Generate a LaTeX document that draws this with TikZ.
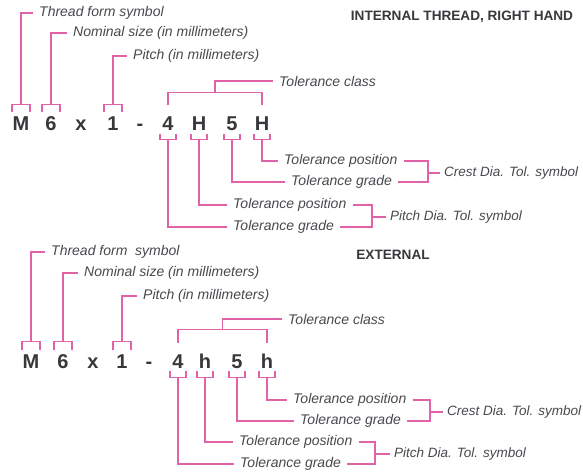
\documentclass[tikz,border=0pt]{standalone}
\usepackage{fontspec}
\setmainfont{Liberation Sans}
\usepackage{xcolor}
\definecolor{leadpink}{RGB}{226,98,168}
\definecolor{labelgray}{RGB}{72,72,78}
\definecolor{glyphgray}{RGB}{55,55,60}

\begin{document}
\begin{tikzpicture}[x=1pt, y=1pt,
        lead/.style={draw=leadpink, line width=1.2pt},
        lbl/.style={anchor=west, inner xsep=6pt, inner ysep=1pt, text=labelgray, font=\fontsize{14}{16}\selectfont\itshape},
        symlbl/.style={lbl, inner xsep=4pt, font=\fontsize{13.5}{16}\selectfont\itshape},
        glyph/.style={inner sep=0pt, text height=14pt, text depth=0pt, text=glyphgray, font=\fontsize{20}{20}\selectfont\bfseries},
        heading/.style={inner sep=0pt, text=glyphgray, font=\fontsize{13.6}{15}\selectfont\bfseries}]
        \useasboundingbox (0,0) rectangle (583,-473);

        \node [heading] (ihead) at (462,-17) {INTERNAL THREAD, RIGHT HAND};
        \node [heading] (ehead) at (393,-255) {EXTERNAL};

        \foreach \ch/\x/\nm in {M/21/M, 6/51/six, x/81/x, 1/113/one, -/140/dash, 4/168/four, H/199/Ha, 5/232/five, H/262/Hb}
        {
            \node [glyph] (i\nm) at (\x,-123.5) {\ch};
        }
        \foreach \ch/\x/\nm in {M/31/M, 6/63/six, x/93/x, 1/122/one, -/149/dash, 4/178/four, h/205/ha, 5/237/five, h/267/hb}
        {
            \node [glyph] (e\nm) at (\x,-361) {\ch};
        }

        \node [lbl] (iform) at (33,-13) {Thread form symbol};
        \node [lbl] (isize) at (67,-33) {Nominal size (in millimeters)};
        \node [lbl] (ipitch) at (127,-56) {Pitch (in millimeters)};
        \node [lbl] (iclass) at (273,-81) {Tolerance class};
        \node [lbl] (iposC) at (278,-161) {Tolerance position};
        \node [lbl] (igrdC) at (285,-182) {Tolerance grade};
        \node [lbl] (iposP) at (227,-205) {Tolerance position};
        \node [lbl] (igrdP) at (227,-227) {Tolerance grade};
        \node [symlbl] (icrest) at (440,-173) {Crest Dia. Tol. symbol};
        \node [symlbl] (ipdia) at (386,-217) {Pitch Dia. Tol. symbol};

        \node [lbl] (eform) at (45,-252) {Thread form\ \ symbol};
        \node [lbl] (esize) at (78,-273) {Nominal size (in millimeters)};
        \node [lbl] (epitch) at (137,-296) {Pitch (in millimeters)};
        \node [lbl] (eclass) at (282,-319) {Tolerance class};
        \node [lbl] (eposC) at (287,-400) {Tolerance position};
        \node [lbl] (egrdC) at (294,-421) {Tolerance grade};
        \node [lbl] (eposP) at (233,-442) {Tolerance position};
        \node [lbl] (egrdP) at (234,-464) {Tolerance grade};
        \node [symlbl] (ecrest) at (443,-412) {Crest Dia. Tol. symbol};
        \node [symlbl] (epdia) at (390,-454) {Pitch Dia. Tol. symbol};

        \foreach \n in {iM, isix, ione, eM, esix, eone}
        {
            \draw [lead] ([xshift=-9pt, yshift=4pt]\n.north) -- ++(0,8) -- ++(18,0) -- ++(0,-8);
        }
        \foreach \n in {ifour, iHa, ifive, iHb, efour, eha, efive, ehb}
        {
            \draw [lead] ([xshift=-8pt, yshift=-3pt]\n.south) -- ++(0,-6) -- ++(16,0) -- ++(0,6);
        }

        \draw [lead] ([yshift=12pt]iM.north) |- (iform.west);
        \draw [lead] ([yshift=12pt]isix.north) |- (isize.west);
        \draw [lead] ([yshift=12pt]ione.north) |- (ipitch.west);
        \draw [lead] ([yshift=11pt]ifour.north) -- ([yshift=24pt]ifour.north) -- coordinate[midway] (iclassmid) ([yshift=24pt]iHb.north) -- ([yshift=11pt]iHb.north);
        \draw [lead] (iclassmid) |- (iclass.west);
        \draw [lead] ([yshift=-9pt]iHb.south) |- (iposC.west);
        \draw [lead] ([yshift=-9pt]ifive.south) |- (igrdC.west);
        \draw [lead] ([yshift=-9pt]iHa.south) |- (iposP.west);
        \draw [lead] ([yshift=-9pt]ifour.south) |- (igrdP.west);
        \draw [lead] (iposC.east) -| ([xshift=-12pt]icrest.west) |- (igrdC.east);
        \draw [lead] ([xshift=-12pt]icrest.west) -- (icrest.west);
        \draw [lead] (iposP.east) -| ([xshift=-14pt]ipdia.west) |- (igrdP.east);
        \draw [lead] ([xshift=-14pt]ipdia.west) -- (ipdia.west);

        \draw [lead] ([yshift=12pt]eM.north) |- (eform.west);
        \draw [lead] ([yshift=12pt]esix.north) |- (esize.west);
        \draw [lead] ([yshift=12pt]eone.north) |- (epitch.west);
        \draw [lead] ([yshift=11pt]efour.north) -- ([yshift=24pt]efour.north) -- coordinate[midway] (eclassmid) ([yshift=24pt]ehb.north) -- ([yshift=11pt]ehb.north);
        \draw [lead] (eclassmid) |- (eclass.west);
        \draw [lead] ([yshift=-9pt]ehb.south) |- (eposC.west);
        \draw [lead] ([yshift=-9pt]efive.south) |- (egrdC.west);
        \draw [lead] ([yshift=-9pt]eha.south) |- (eposP.west);
        \draw [lead] ([yshift=-9pt]efour.south) |- (egrdP.west);
        \draw [lead] (eposC.east) -| ([xshift=-13pt]ecrest.west) |- (egrdC.east);
        \draw [lead] ([xshift=-13pt]ecrest.west) -- (ecrest.west);
        \draw [lead] (eposP.east) -| ([xshift=-15pt]epdia.west) |- (egrdP.east);
        \draw [lead] ([xshift=-15pt]epdia.west) -- (epdia.west);
    \end{tikzpicture}
\end{document}
